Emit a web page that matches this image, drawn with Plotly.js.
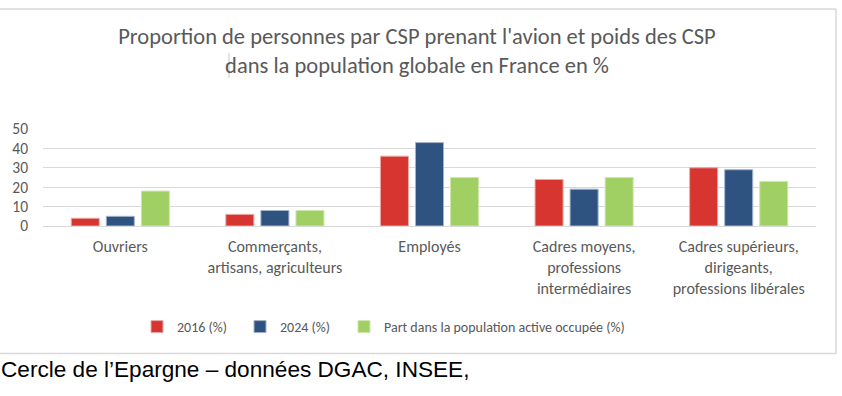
<!DOCTYPE html>
<html>
<head>
<meta charset="utf-8">
<script src="https://cdn.plot.ly/plotly-3.0.1.min.js"></script>
<style>
html,body{margin:0;padding:0;background:#fff;}
#chart{width:842px;height:396px;}
</style>
</head>
<body>
<div id="chart"></div>
<script>
const categories = [
  "Ouvriers",
  "Commerçants,<br>artisans, agriculteurs",
  "Employés",
  "Cadres moyens,<br>professions<br>intermédiaires",
  "Cadres supérieurs,<br>dirigeants,<br>professions libérales"
];
const values2016 = [4, 6, 36, 24, 30];
const values2024 = [5, 8, 43, 19, 29];
const valuesPart = [18, 8, 25, 25, 23];
const seriesNames = ["2016 (%)", "2024 (%)", "Part dans la population active occupée (%)"];
const yTicks = [0, 10, 20, 30, 40, 50];

const colors = ["#D7352F", "#2E5381", "#A0CF63"];
const lineColors = ["#EBA9A6", "#A3B4CB", "#CFE7AE"];
const legendRefs = ["legend", "legend", "legend2"];
const catFont = "Carlito, 'Liberation Sans Narrow', Roboto, sans-serif";

const traces = [values2016, values2024, valuesPart].map((v, i) => ({
  type: "bar",
  x: categories,
  y: v,
  name: seriesNames[i],
  legend: legendRefs[i],
  marker: {color: colors[i], line: {color: lineColors[i], width: 1}},
  hoverinfo: "skip"
}));

// pixel -> paper helpers (plot area 43..816 x, 129..226 y)
const L = 43, R = 816, T = 129, B = 226;
const px = p => (p - L) / (R - L);
const py = p => (B - p) / (B - T);

const legendFont = {family: catFont, size: 14, color: "#595959"};

const layout = {
  width: 842, height: 396,
  margin: {l: L, r: 842 - R, t: T, b: 396 - B, pad: 0},
  paper_bgcolor: "#ffffff",
  plot_bgcolor: "#ffffff",
  title: {
    text: "Proportion de personnes par CSP prenant l'avion et poids des CSP<br>dans la population globale en France en %",
    font: {family: catFont, size: 22.5, color: "#595959"},
    x: 417 / 842, xanchor: "center", xref: "container",
    y: 1 - 44 / 396, yanchor: "top", yref: "container"
  },
  barmode: "group",
  bargap: 0.32,
  bargroupgap: 0.2,
  showlegend: true,
  legend: {
    orientation: "h",
    x: px(137), xanchor: "left", xref: "paper",
    y: py(327), yanchor: "middle", yref: "paper",
    font: legendFont,
    entrywidth: 58,
    traceorder: "normal"
  },
  legend2: {
    orientation: "h",
    x: px(344), xanchor: "left", xref: "paper",
    y: py(327), yanchor: "middle", yref: "paper",
    font: legendFont,
    traceorder: "normal"
  },
  xaxis: {
    type: "category",
    tickfont: {family: catFont, size: 16, color: "#595959"},
    showgrid: false,
    showline: false,
    ticks: "",
    ticklabelstandoff: 9,
    fixedrange: true
  },
  yaxis: {
    range: [0, 50],
    tickvals: yTicks,
    ticktext: yTicks.map(String),
    tickfont: {family: catFont, size: 15.5, color: "#595959"},
    showgrid: true,
    gridcolor: "#D9D9D9",
    gridwidth: 1,
    zeroline: true,
    zerolinecolor: "#D9D9D9",
    zerolinewidth: 1,
    showline: false,
    ticks: "",
    ticklabelstandoff: 14,
    fixedrange: true
  },
  shapes: [
    {type: "line", xref: "paper", yref: "paper", x0: px(-5), x1: px(836), y0: py(9), y1: py(9),
     line: {color: "#D9D9D9", width: 1.5}},
    {type: "line", xref: "paper", yref: "paper", x0: px(836), x1: px(836), y0: py(9), y1: py(353.5),
     line: {color: "#D9D9D9", width: 1.5}},
    {type: "line", xref: "paper", yref: "paper", x0: px(-5), x1: px(836), y0: py(353.5), y1: py(353.5),
     line: {color: "#D9D9D9", width: 1.5}},
    {type: "line", xref: "paper", yref: "paper", x0: px(229), x1: px(229), y0: py(53), y1: py(78),
     line: {color: "#C8C8C8", width: 1}}
  ],
  annotations: [
    {text: "Cercle de l’Epargne – données DGAC, INSEE,",
     xref: "paper", yref: "paper", x: px(-1), y: py(369), xanchor: "left", yanchor: "middle",
     showarrow: false,
     font: {family: "'Liberation Sans', Arial, sans-serif", size: 22.6, color: "#000000"}}
  ]
};

Plotly.newPlot("chart", traces, layout, {displayModeBar: false, staticPlot: true});
</script>
</body>
</html>
